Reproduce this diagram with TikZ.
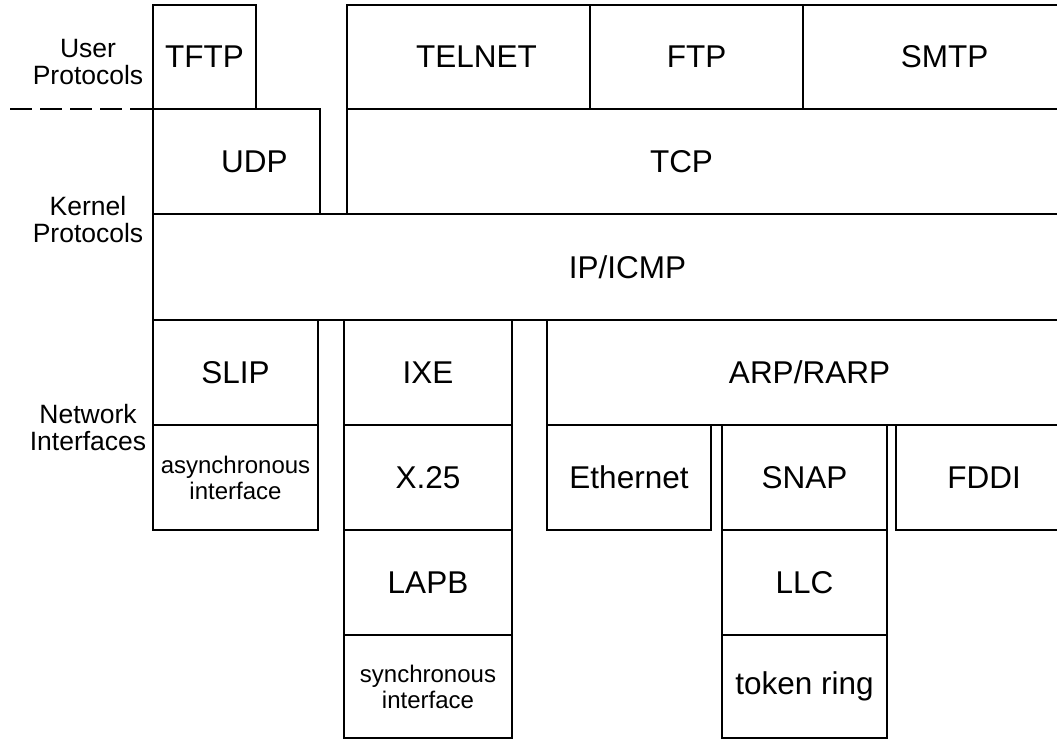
\documentclass[tikz,border=0pt]{standalone}
\usepackage{fontspec}
\setmainfont{Liberation Sans}
\usepackage{tikz}
\usetikzlibrary{positioning}
\tikzstyle{capa} = [draw=black, line width=1.8pt, rectangle, inner sep=0pt, outer sep=0pt, anchor=north west]
\tikzstyle{nota} = [align=center, font=\fontsize{24}{26}\selectfont]
\tikzstyle{etiqueta} = [align=center, font=\fontsize{26.5}{27}\selectfont]
\tikzstyle{separador} = [line width=1.8pt, dash pattern=on 22pt off 8pt]

\begin{document}
\begin{tikzpicture}[x=1pt, y=-1pt, font=\fontsize{31.5}{36}\selectfont]
	\useasboundingbox (0,0) rectangle (1057,740);
	\clip (0,0) rectangle (1057,740);
	% protocolos de usuario
	\node[capa, minimum width=103, minimum height=104] (tftp) at (153,5) {TFTP};
	\node[capa, minimum width=243, minimum height=104, label={[xshift=8pt]center:TELNET}] (telnet) at (347,5) {};
	\node[capa, minimum width=213, minimum height=104] (ftp) at (590,5) {FTP};
	\node[capa, minimum width=269, minimum height=104, label={[xshift=7pt]center:SMTP}] (smtp) at (803,5) {};
	% protocolos del kernel
	\node[capa, minimum width=167, minimum height=105, label={[xshift=18pt]center:UDP}] (udp) at (153,109) {};
	\node[capa, minimum width=725, minimum height=105, label={[xshift=-28pt]center:TCP}] (tcp) at (347,109) {};
	\node[capa, minimum width=919, minimum height=106, label={[xshift=15pt]center:IP/ICMP}] (ip) at (153,214) {};
	% interfaces de red
	\node[capa, minimum width=165, minimum height=105] (slip) at (153,320) {SLIP};
	\node[capa, minimum width=165, minimum height=105] (async) at (153,425) {};
	\node[nota] at (async.center) {asynchronous\\interface};
	\node[capa, minimum width=168, minimum height=105] (ixe) at (344,320) {IXE};
	\node[capa, minimum width=168, minimum height=105] (x25) at (344,425) {X.25};
	\node[capa, minimum width=168, minimum height=105] (lapb) at (344,530) {LAPB};
	\node[capa, minimum width=168, minimum height=103] (sync) at (344,635) {};
	\node[nota] at (sync.center) {synchronous\\interface};
	\node[capa, minimum width=525, minimum height=105] (arp) at (547,320) {ARP/RARP};
	\node[capa, minimum width=164, minimum height=105] (ether) at (547,425) {Ethernet};
	\node[capa, minimum width=165, minimum height=105] (snap) at (722,425) {SNAP};
	\node[capa, minimum width=165, minimum height=105] (llc) at (722,530) {LLC};
	\node[capa, minimum width=165, minimum height=103] (token) at (722,635) {token ring};
	\node[capa, minimum width=176, minimum height=105] (fddi) at (896,425) {FDDI};
	% etiquetas de la izquierda
	\node[etiqueta] (user) at (88,62) {User\\Protocols};
	\node[etiqueta] (kernel) at (88,220) {Kernel\\Protocols};
	\node[etiqueta] (netif) at (88,428) {Network\\Interfaces};
	\coordinate (inicio) at (10,109);
	\draw[separador] (inicio) -- (tftp.south west);
\end{tikzpicture}
\end{document}
